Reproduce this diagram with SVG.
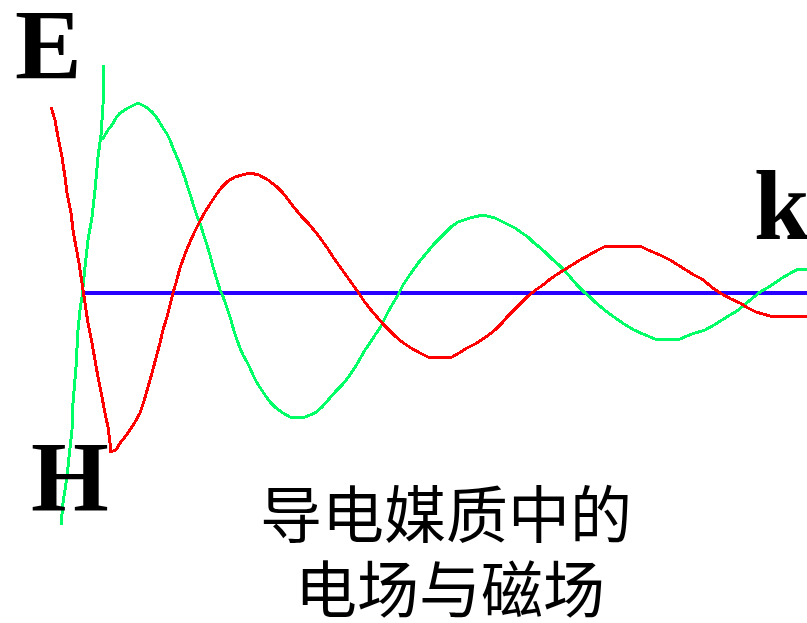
<svg xmlns="http://www.w3.org/2000/svg" width="807" height="623" viewBox="0 0 807 623">
<style>
.curve{fill:none;stroke-width:3;stroke-linejoin:round;stroke-linecap:butt;shape-rendering:crispEdges}
.e{stroke:#ff0000}
.h{stroke:#00ff66}
.axis{stroke:#2800ff;stroke-width:4;fill:none;shape-rendering:crispEdges}
.lbl{font-family:"Liberation Serif","Times New Roman",serif;font-weight:bold;font-size:100px;fill:#000}
.cap{font-family:"Noto Sans CJK SC","Noto Sans CJK TC",sans-serif;font-size:62px;fill:#000;text-anchor:middle}
</style>
<rect width="807" height="623" fill="#ffffff"/>
<line class="axis" x1="82" y1="293" x2="807" y2="293"/>
<polyline class="curve h" points="61,525 63,503 67,477 69,457 72,430 73,403 76,367 78,330 80,310 82,297 85,267 88,240 92,217 95,190 98,157 101,135 103,105 104,65"/>
<polyline class="curve h" points="102,140 108,130 112,125 116,118 120,113 128,108 138,103 146,107 152,112 157,118 160,123 163,128 167,134 170,140 173,148 176,155 179,162 182,170 185,178 188,188 191,197 194,207 197,216 201,226 204,236 207,245 210,255 213,267 217,280 220,290 222,294 225,302 228,311 231,320 234,331 237,340 240,348 243,355 247,362 250,368 253,375 256,381 259,386 263,392 267,398 271,403 276,408 283,413 290,417 305,417 315,413 322,407 329,399 336,391 342,385 347,379 352,372 357,364 361,357 365,350 370,343 375,335 380,328 384,320 388,312 392,305 395,300 398,295 403,285 409,276 414,269 419,262 424,256 429,250 434,244 440,238 446,232 451,227 458,222 470,218 483,215 495,218 505,223 515,228 522,233 528,237 533,242 538,246 545,252 552,259 559,265 565,271 571,278 577,285 584,292 590,297 595,302 601,307 607,312 614,317 624,324 634,330 643,334 655,339 680,339 692,334 705,330 714,325 722,320 730,315 737,311 743,306 749,301 754,297 760,292 767,288 775,283 782,278 789,274 798,269 807,269"/>
<polyline class="curve e" points="51,107 55,120 58,137 62,157 65,177 67,193 71,213 73,230 76,247 79,263 82,283 85,303 88,323 92,343 95,360 98,377 102,397 105,413 108,427 110,443 110,452 116,450 120,443 125,437 130,430 135,422 140,413 144,401 148,387 152,373 156,358 160,343 163,330 167,317 170,305 173,293 176,283 180,268 185,254 190,242 195,231 200,221 205,212 210,204 216,195 222,187 228,181 235,177 242,175 250,173 259,175 268,180 276,186 282,192 287,198 292,205 297,211 302,217 308,223 313,229 318,235 323,242 328,249 333,257 338,264 343,271 348,278 353,285 358,292 364,301 371,310 377,317 383,324 389,330 395,336 402,342 411,348 420,353 428,357 438,358 452,357 459,353 467,348 475,344 483,339 490,334 496,329 502,323 507,317 512,312 517,307 522,302 527,297 532,293 537,289 543,285 549,280 556,275 564,270 572,265 580,260 589,255 598,250 606,246 640,246 648,250 660,255 670,260 678,265 686,270 694,275 702,279 708,284 714,289 722,294 731,299 740,303 748,308 756,312 770,316 807,316"/>
<text class="lbl" x="15" y="78">E</text>
<text class="lbl" x="31" y="510">H</text>
<text class="lbl" x="754" y="239">k</text>
<text class="cap" x="446" y="538">导电媒质中的</text>
<text class="cap" x="450" y="613">电场与磁场</text>
</svg>
